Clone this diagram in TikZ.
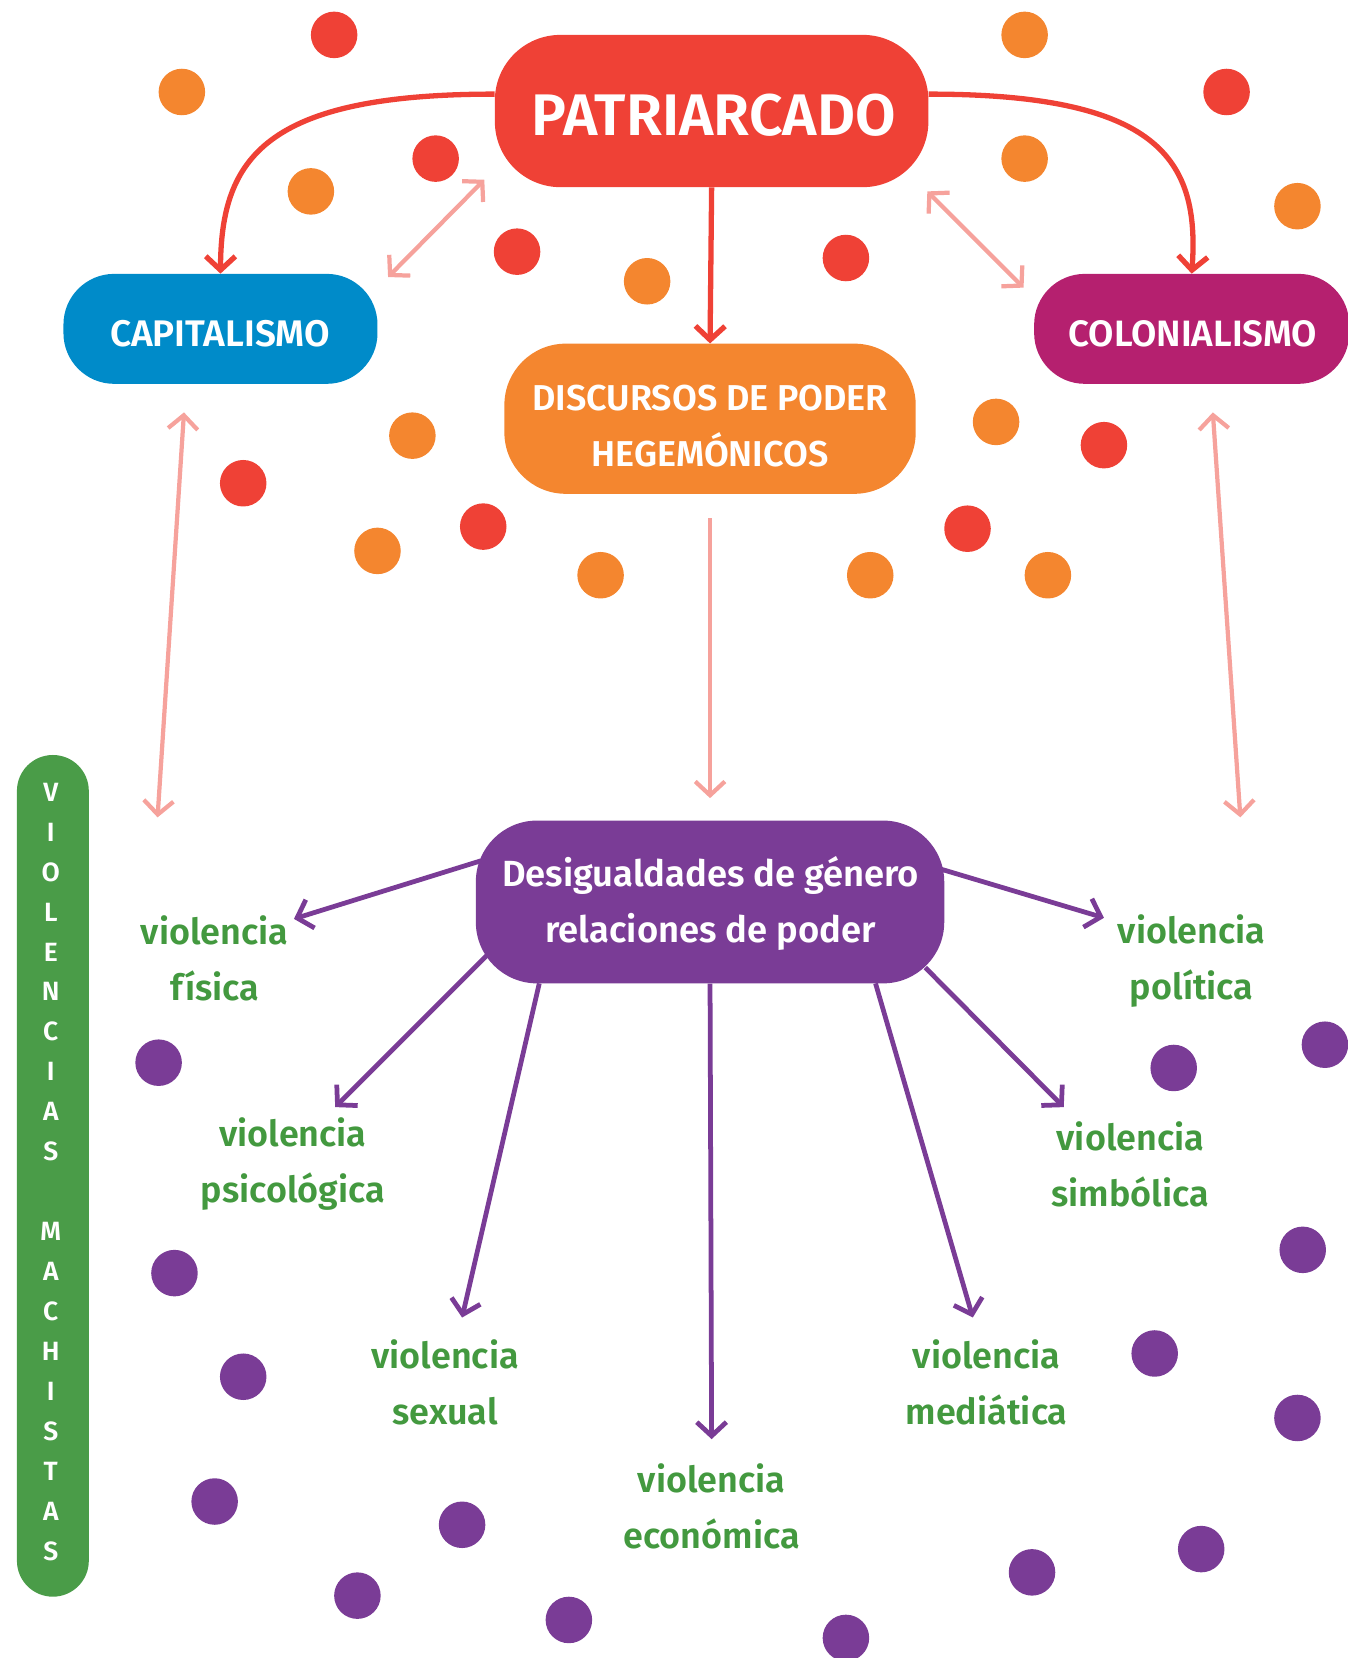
\documentclass[tikz,border=0pt]{standalone}
\usepackage{fontspec}
\setmainfont{Fira Sans}[BoldFont={Fira Sans SemiBold}]
\usetikzlibrary{arrows.meta,calc}
\definecolor{cred}{HTML}{EF4136}
\definecolor{corange}{HTML}{F4862F}
\definecolor{cblue}{HTML}{008BC9}
\definecolor{cmag}{HTML}{B5206F}
\definecolor{cpurple}{HTML}{7A3C96}
\definecolor{cgreen}{HTML}{4A9C48}
\definecolor{cpink}{HTML}{F6A29C}
\definecolor{cgtext}{HTML}{43993F}
\begin{document}
\begin{tikzpicture}[x=1pt,y=-1pt,
  box/.style={rounded corners=#1, inner sep=0pt, text=white, align=center, font=\bfseries},
  lab/.style={text=cgtext, align=center, font=\fontsize{34}{53}\selectfont\bfseries, inner sep=0pt},
  tip/.style={-{Straight Barb[length=13pt,width=28pt]}},
  redarr/.style={draw=cred, line width=5pt, tip},
  pinkarr/.style={draw=cpink, line width=4pt, tip},
  pinkdbl/.style={draw=cpink, line width=4pt, {Straight Barb[length=13pt,width=28pt]}-{Straight Barb[length=13pt,width=28pt]}},
  purarr/.style={draw=cpurple, line width=4.5pt, tip},
  rdot/.style={fill=cred, draw=none},
  odot/.style={fill=corange, draw=none},
  pdot/.style={fill=cpurple, draw=none}]
\useasboundingbox (0,0) rectangle (1274,1568);

% dots
\foreach \x/\y in {316/33,412/150,489/238,800/244,1160/87,230/457,457/498,915/500,1044/421}
  \fill[rdot] (\x,\y) circle (22);
\foreach \x/\y in {172/87,294/181,612/266,969/33,969/150,1227/195,390/412,357/521,568/544,823/544,942/399,991/544}
  \fill[odot] (\x,\y) circle (22);
\foreach \x/\y in {150/1005,165/1204,230/1302,203/1420,338/1509,437/1442,538/1532,800/1549,976/1487,1136/1465,1227/1341,1092/1280,1232/1182,1110/1010,1253/988}
  \fill[pdot] (\x,\y) circle (22);

% boxes
\node[box=62, fill=cred, minimum width=410pt, minimum height=144pt] (pat) at (673,105) {};
\node[text=white, inner sep=0pt, font=\fontsize{55.5}{60}\selectfont\bfseries] (patt) at (675,109) {PATRIARCADO};
\node[box=48, fill=cblue, minimum width=297pt, minimum height=104pt] (cap) at (208.5,311) {};
\node[text=white, inner sep=0pt, font=\fontsize{35}{40}\selectfont\bfseries] (capt) at (208,316) {CAPITALISMO};
\node[box=48, fill=cmag, minimum width=298pt, minimum height=104pt] (col) at (1127,311) {};
\node[text=white, inner sep=0pt, font=\fontsize{34.7}{40}\selectfont\bfseries] (colt) at (1128,316) {COLONIALISMO};
\node[box=58, fill=corange, minimum width=389pt, minimum height=142pt] (disc) at (671.5,396) {};
\node[text=white, inner sep=0pt, align=center, font=\fontsize{34}{53}\selectfont\bfseries] (disct) at (671.5,403) {DISCURSOS DE PODER\\HEGEMÓNICOS};
\node[box=58, fill=cpurple, minimum width=443pt, minimum height=154pt] (des) at (671.5,853) {};
\node[text=white, inner sep=0pt, align=center, font=\fontsize{34.4}{53}\selectfont\bfseries] (dest) at (672,854) {Desigualdades de género\\relaciones de poder};
\node[box=34, fill=cgreen, minimum width=68pt, minimum height=796pt] (bar) at (50,1112) {};
\foreach \l [count=\k from 0] in {V,I,O,L,E,N,C,I,A,S,{},M,A,C,H,I,S,T,A,S}
  \node[text=white, font=\fontsize{25}{25}\selectfont\bfseries, inner sep=0pt] (let\k) at (48,749+\k*37.8) {\l};

% labels
\node[lab] (fis) at (203,906) {violencia\\física};
\node[lab] (psi) at (277,1101) {violencia\\psicológica};
\node[lab] (sex) at (421,1307) {violencia\\sexual};
\node[lab] (eco) at (673,1425) {violencia\\económica};
\node[lab] (med) at (933,1307) {violencia\\mediática};
\node[lab] (sim) at (1069,1101) {violencia\\simbólica};
\node[lab] (pol) at (1127,909) {violencia\\política};

% red connectors
\draw[redarr] ($(pat.west)+(0,-16)$) .. controls (250,89) and (209,150) .. (cap.north);
\draw[redarr] ($(pat.east)+(0,-16)$) .. controls (1095,89) and (1135,150) .. (col.north);
\draw[redarr] (pat.south) -- (disc.north);

% pink connectors
\coordinate (pa1) at (367,262); \coordinate (pa2) at (458,170);
\coordinate (pb1) at (877,181); \coordinate (pb2) at (968,272);
\coordinate (pc1) at (174,390); \coordinate (pc2) at (149,773);
\coordinate (pd1) at (1147,390); \coordinate (pd2) at (1173,773);
\draw[pinkdbl] (pa1) -- (pa2);
\draw[pinkdbl] (pb1) -- (pb2);
\draw[pinkdbl] (pc1) -- (pc2);
\draw[pinkdbl] (pd1) -- (pd2);
\draw[pinkarr, shorten <=23pt, shorten >=21pt] (disc.south) -- (des.north);

% purple connectors
\coordinate (s1) at (455,814); \coordinate (t1) at (278,869);
\coordinate (s2) at (461,903); \coordinate (t2) at (317,1047);
\coordinate (s3) at (510,930); \coordinate (t3) at (437,1246);
\coordinate (t4) at (673,1361);
\coordinate (s5) at (828,930); \coordinate (t5) at (920,1246);
\coordinate (s6) at (875,915); \coordinate (t6) at (1006,1047);
\coordinate (s7) at (890,822); \coordinate (t7) at (1044,868);
\draw[purarr] (s1) -- (t1);
\draw[purarr] (s2) -- (t2);
\draw[purarr] (s3) -- (t3);
\draw[purarr] (des.south) -- (t4);
\draw[purarr] (s5) -- (t5);
\draw[purarr] (s6) -- (t6);
\draw[purarr] (s7) -- (t7);
\end{tikzpicture}
\end{document}
